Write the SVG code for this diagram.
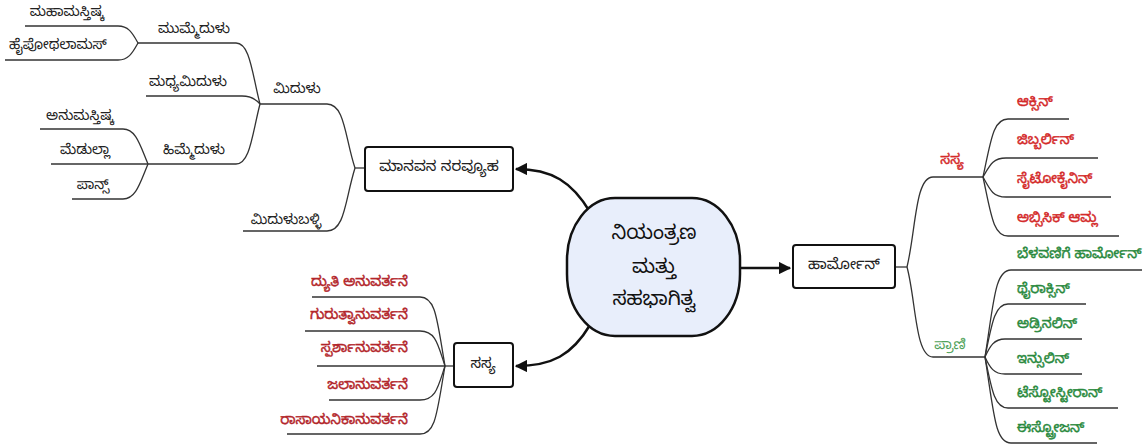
<svg xmlns="http://www.w3.org/2000/svg" width="1143" height="447" viewBox="0 0 1143 447">
<defs>
<style>
text{font-family:"Noto Sans Kannada","Noto Sans","Liberation Sans",sans-serif;dominant-baseline:central}
.leaf{font-size:14px;fill:#222;text-anchor:middle}
.box{fill:#fff;stroke:#111;stroke-width:2}
.bt{font-size:15px;fill:#222;text-anchor:middle}
.ct{font-size:20px;fill:#111;text-anchor:middle}
.red{font-size:14px;fill:#d42a2a;stroke:#d42a2a;stroke-width:0.45}
.dred{font-size:14px;fill:#b3262b;stroke:#b3262b;stroke-width:0.45;text-anchor:end}
.grn{font-size:14px;fill:#2a8a3e;stroke:#2a8a3e;stroke-width:0.45}
.ln{fill:none;stroke:#333;stroke-width:1.3}
.arr{fill:none;stroke:#111;stroke-width:2.5}
</style>
<marker id="ah" viewBox="0 0 10 10" refX="9" refY="5" markerWidth="5" markerHeight="5" orient="auto" markerUnits="strokeWidth">
<path d="M0,0 L10,5 L0,10 z" fill="#111"/>
</marker>
</defs>
<rect width="1143" height="447" fill="#fff"/>

<g id="connectors">
<path class="arr" d="M590,212 C572,182 552,169 516,169" marker-end="url(#ah)"/>
<path class="arr" d="M590,325 C572,355 552,366 516,366" marker-end="url(#ah)"/>
<path class="arr" d="M740,268 H790" marker-end="url(#ah)"/>

<path class="ln" d="M365,168 H355"/>
<path class="ln" d="M355,168 C345,138 345,104 327,104 H260"/>
<path class="ln" d="M355,168 C345,200 345,231 327,231 H243"/>
<path class="ln" d="M260,104 C252,73 250,43 236,43 H138"/>
<path class="ln" d="M260,104 C255,98 250,96 242,96 H146"/>
<path class="ln" d="M260,104 C252,135 250,164 236,164 H148"/>
<path class="ln" d="M138,43 C132,32 128,26 118,26 H25"/>
<path class="ln" d="M138,43 C132,54 128,60 118,60 H5"/>
<path class="ln" d="M148,164 C140,145 136,129 123,129 H40"/>
<path class="ln" d="M148,164 H51"/>
<path class="ln" d="M148,164 C140,183 136,199 123,199 H72"/>

<path class="ln" d="M454,366 H445"/>
<path class="ln" d="M445,366 C437,320 436,297 420,297 H312"/>
<path class="ln" d="M445,366 C438,345 436,331 420,331 H305"/>
<path class="ln" d="M445,366 H317"/>
<path class="ln" d="M445,366 C438,387 436,400 420,400 H329"/>
<path class="ln" d="M445,366 C437,412 436,434 420,434 H287"/>

<path class="ln" d="M895,267 H907"/>
<path class="ln" d="M907,267 C916,230 915,177 933,177 H983"/>
<path class="ln" d="M907,267 C916,300 915,357 933,357 H985"/>
<path class="ln" d="M983,177 C991,140 993,119 1008,119 H1069"/>
<path class="ln" d="M983,177 C990,165 993,158 1006,158 H1098"/>
<path class="ln" d="M983,177 C990,190 993,197 1006,197 H1111"/>
<path class="ln" d="M983,177 C991,214 993,236 1008,236 H1119"/>
<path class="ln" d="M985,357 C994,300 995,270 1011,270 H1142"/>
<path class="ln" d="M985,357 C992,322 995,304 1008,304 H1086"/>
<path class="ln" d="M985,357 C990,346 994,339 1005,339 H1082"/>
<path class="ln" d="M985,357 C990,368 994,374 1005,374 H1082"/>
<path class="ln" d="M985,357 C992,392 995,408 1008,408 H1118"/>
<path class="ln" d="M985,357 C994,414 995,443 1011,443 H1097"/>
</g>

<g id="center">
<rect x="567" y="198" width="173" height="138" rx="48" ry="62" fill="#e8eefb" stroke="#111" stroke-width="2.5"/>
<text class="ct" x="654" y="236">ನಿಯಂತ್ರಣ</text>
<text class="ct" x="654" y="270">ಮತ್ತು</text>
<text class="ct" x="654" y="302">ಸಹಭಾಗಿತ್ವ</text>
</g>

<g id="nervous">
<rect class="box" x="365" y="147" width="148" height="44" rx="3"/>
<text class="bt" x="439" y="169">ಮಾನವನ ನರವ್ಯೂಹ</text>
</g>
<g id="brain"><text class="leaf" x="297" y="91">ಮಿದುಳು</text></g>
<g id="forebrain"><text class="leaf" x="194" y="31">ಮುಮ್ಮೆದುಳು</text></g>
<g id="cerebrum"><text class="leaf" x="67" y="14">ಮಹಾಮಸ್ತಿಷ್ಕ</text></g>
<g id="hypothalamus"><text class="leaf" x="58" y="47">ಹೈಪೋಥಲಾಮಸ್</text></g>
<g id="midbrain"><text class="leaf" x="188" y="84">ಮಧ್ಯಮಿದುಳು</text></g>
<g id="hindbrain"><text class="leaf" x="194" y="152">ಹಿಮ್ಮೆದುಳು</text></g>
<g id="cerebellum"><text class="leaf" x="80" y="118">ಅನುಮಸ್ತಿಷ್ಕ</text></g>
<g id="medulla"><text class="leaf" x="85" y="152">ಮೆಡುಲ್ಲಾ</text></g>
<g id="pons"><text class="leaf" x="93" y="187">ಪಾನ್ಸ್</text></g>
<g id="spinalcord"><text class="leaf" x="286" y="222">ಮಿದುಳುಬಳ್ಳಿ</text></g>

<g id="plant">
<rect class="box" x="454" y="343" width="59" height="44" rx="3"/>
<text class="bt" x="483" y="366">ಸಸ್ಯ</text>
</g>
<g id="photo"><text class="dred" x="408" y="284">ದ್ಯುತಿ ಅನುವರ್ತನೆ</text></g>
<g id="geo"><text class="dred" x="408" y="317">ಗುರುತ್ವಾನುವರ್ತನೆ</text></g>
<g id="thigmo"><text class="dred" x="408" y="350">ಸ್ಪರ್ಶಾನುವರ್ತನೆ</text></g>
<g id="hydro"><text class="dred" x="408" y="387">ಜಲಾನುವರ್ತನೆ</text></g>
<g id="chemo"><text class="dred" x="408" y="422">ರಾಸಾಯನಿಕಾನುವರ್ತನೆ</text></g>

<g id="hormone">
<rect class="box" x="793" y="245" width="102" height="43" rx="3"/>
<text class="bt" x="844" y="267">ಹಾರ್ಮೋನ್</text>
</g>
<g id="planthormone"><text class="red" x="952" y="162" text-anchor="middle">ಸಸ್ಯ</text></g>
<g id="auxin"><text class="red" x="1017" y="104">ಆಕ್ಸಿನ್</text></g>
<g id="gibberellin"><text class="red" x="1017" y="142">ಜಿಬ್ಬರ್ಲಿನ್</text></g>
<g id="cytokinin"><text class="red" x="1017" y="181">ಸೈಟೋಕೈನಿನ್</text></g>
<g id="abscisic"><text class="red" x="1017" y="220">ಅಬ್ಸಿಸಿಕ್ ಆಮ್ಲ</text></g>

<g id="animal"><text x="950" y="347" text-anchor="middle" style="font-size:14px;fill:#4fa25a">ಪ್ರಾಣಿ</text></g>
<g id="growth"><text class="grn" x="1017" y="256">ಬೆಳವಣಿಗೆ ಹಾರ್ಮೋನ್</text></g>
<g id="thyroxin"><text class="grn" x="1017" y="291">ಥೈರಾಕ್ಸಿನ್</text></g>
<g id="adrenalin"><text class="grn" x="1017" y="326">ಅಡ್ರಿನಲಿನ್</text></g>
<g id="insulin"><text class="grn" x="1017" y="361">ಇನ್ಸುಲಿನ್</text></g>
<g id="testosterone"><text class="grn" x="1017" y="395">ಟೆಸ್ಟೋಸ್ಟೀರಾನ್</text></g>
<g id="estrogen"><text class="grn" x="1017" y="430">ಈಸ್ಟ್ರೋಜನ್</text></g>
</svg>
